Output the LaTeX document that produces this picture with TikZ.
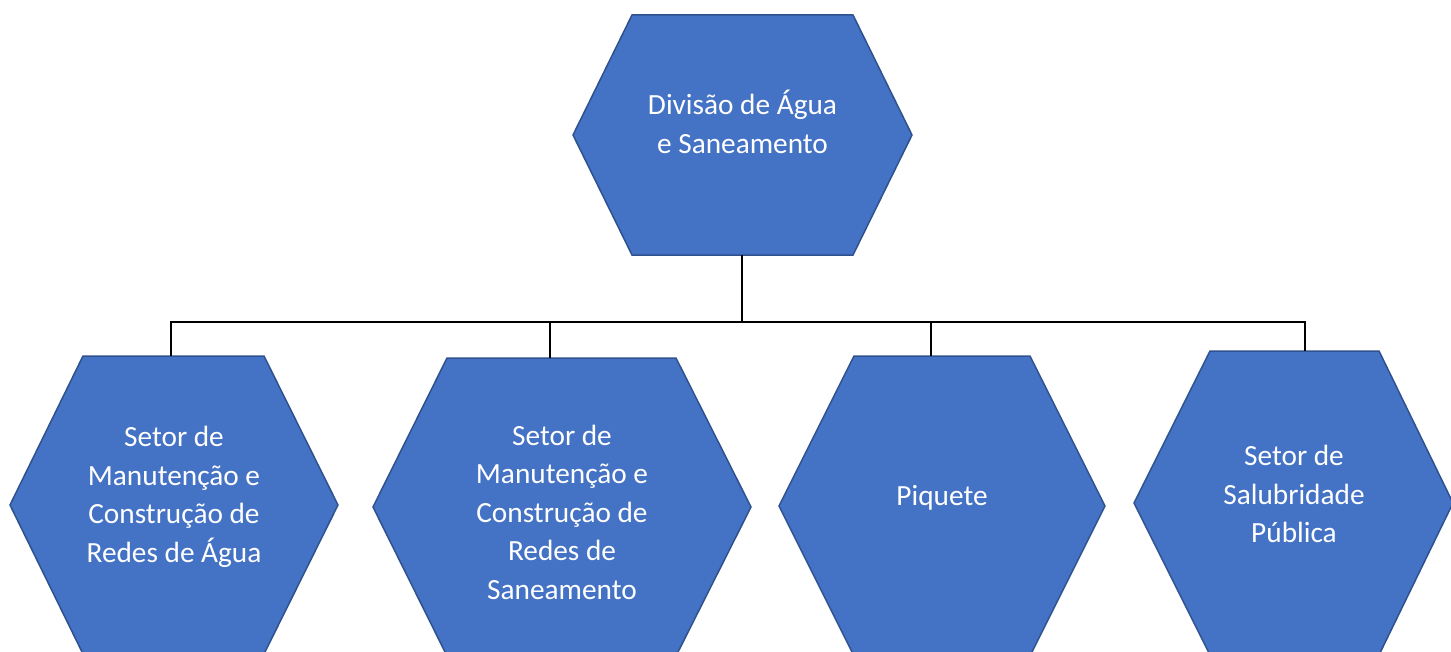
\documentclass[tikz,border=0pt]{standalone}
\usepackage{fontspec}
\setmainfont{Carlito}
\definecolor{hexfill}{HTML}{4472C4}
\definecolor{hexline}{HTML}{2F528F}
\begin{document}
\begin{tikzpicture}[x=1bp,y=-1bp,
  hexa/.style={fill=hexfill,draw=hexline,line width=1.5bp,line join=miter},
  lbl/.style={text=white,align=center,inner sep=0pt,font=\fontsize{29.3bp}{38.5bp}\selectfont},
  conn/.style={draw=black,line width=1.1bp}]
\useasboundingbox (0,0) rectangle (1451,652);
\clip (0,0) rectangle (1451,652);
% top hexagon
\draw[hexa] (573,135) -- (632,15) -- (853,15) -- (912,135) -- (853,255) -- (632,255) -- cycle;
\node[lbl] (top) at (742.5,122) {Divisão de Água\\e Saneamento};
% children
\draw[hexa] (10,505) -- (83,356) -- (264,356) -- (338,505) -- (264,654) -- (83,654) -- cycle;
\node[lbl] (c1) at (174,497) {Setor de\\Manutenção e\\Construção de\\Redes de Água};
\draw[hexa] (373,507) -- (447,358) -- (676,358) -- (751,507) -- (676,656) -- (447,656) -- cycle;
\node[lbl] (c2) at (562,512) {Setor de\\Manutenção e\\Construção de\\Redes de\\Saneamento};
\draw[hexa] (779,506) -- (854,356) -- (1030,356) -- (1105,506) -- (1030,656) -- (854,656) -- cycle;
\node[lbl] (c3) at (942,498) {Piquete};
\draw[hexa] (1134,503) -- (1210,351) -- (1379,351) -- (1453,503) -- (1379,655) -- (1210,655) -- cycle;
\node[lbl] (c4) at (1294,494) {Setor de\\Salubridade\\Pública};
% connector anchors
\coordinate (topB) at (742,255);
\coordinate (bus) at (742,322);
\coordinate (c1T) at (171,356);
\coordinate (c2T) at (550,358);
\coordinate (c3T) at (931,356);
\coordinate (c4T) at (1305,351);
\draw[conn] (topB) -- (bus);
\draw[conn] (c1T) |- (bus) -| (c4T);
\draw[conn] (c2T) -- (c2T |- bus);
\draw[conn] (c3T) -- (c3T |- bus);
\end{tikzpicture}
\end{document}
